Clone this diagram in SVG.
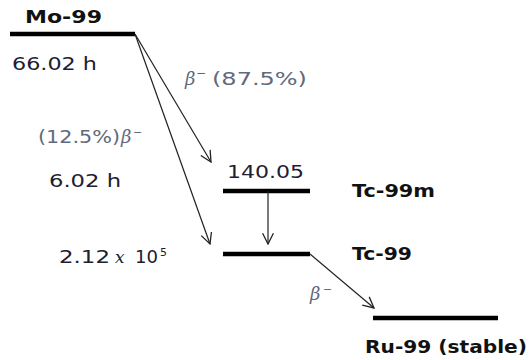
<svg xmlns="http://www.w3.org/2000/svg" width="530" height="360" viewBox="0 0 530 360">
<defs>
<marker id="v" viewBox="0 0 12 12" refX="11" refY="6" markerWidth="13" markerHeight="13" markerUnits="userSpaceOnUse" orient="auto">
<path d="M1,1 L11,6 L1,11" fill="none" stroke="#222" stroke-width="1.2"/>
</marker>
</defs>
<style>
.lvl{stroke:#000;stroke-width:4.5}
.lbl{font-family:"DejaVu Sans",Verdana,sans-serif;font-weight:bold;font-size:17px;fill:#111}
.num{font-family:"DejaVu Sans",Verdana,sans-serif;font-size:17px;fill:#1c2030}
.br{font-family:"DejaVu Sans",sans-serif;font-size:18px;fill:#616a7c}
.bi{font-family:"DejaVu Serif",serif;font-style:italic}
.con{stroke:#222;stroke-width:1.2;fill:none}
</style>
<rect width="530" height="360" fill="#fff"/>
<g id="mo99">
<line class="lvl" x1="10" y1="34" x2="135" y2="34"/>
<text class="lbl" x="25" y="23" textLength="77" lengthAdjust="spacingAndGlyphs">Mo-99</text>
<text class="num" x="12" y="70" textLength="85" lengthAdjust="spacingAndGlyphs">66.02 h</text>
</g>
<g id="tc99m">
<line class="lvl" x1="223" y1="191" x2="310" y2="191"/>
<text class="num" x="227" y="178" textLength="77" lengthAdjust="spacingAndGlyphs">140.05</text>
<text class="lbl" x="352" y="197" textLength="83" lengthAdjust="spacingAndGlyphs">Tc-99m</text>
</g>
<g id="tc99">
<line class="lvl" x1="223" y1="254" x2="310" y2="254"/>
<text class="lbl" x="352" y="260" textLength="60" lengthAdjust="spacingAndGlyphs">Tc-99</text>
</g>
<g id="ru99">
<line class="lvl" x1="373" y1="318" x2="498" y2="318"/>
<text class="lbl" x="365" y="353" textLength="162" lengthAdjust="spacingAndGlyphs">Ru-99 (stable)</text>
</g>
<g id="connectors">
<line class="con" x1="135" y1="34" x2="211" y2="162" marker-end="url(#v)"/>
<line class="con" x1="135" y1="34" x2="210" y2="244" marker-end="url(#v)"/>
<line class="con" x1="268" y1="191" x2="268" y2="244" marker-end="url(#v)"/>
<line class="con" x1="310" y1="254" x2="374" y2="308" marker-end="url(#v)"/>
</g>
<g id="labels">
<text class="br" y="85"><tspan class="bi" x="185">β</tspan><tspan x="196" dy="-8" font-size="12">−</tspan><tspan x="212" dy="8" textLength="95" lengthAdjust="spacingAndGlyphs">(87.5%)</tspan></text>
<text class="br" y="143" font-size="16"><tspan x="38" textLength="82" lengthAdjust="spacingAndGlyphs">(12.5%)</tspan><tspan class="bi" x="121">β</tspan><tspan x="133" dy="-7" font-size="11">−</tspan></text>
<text class="num" x="49" y="187" textLength="72" lengthAdjust="spacingAndGlyphs">6.02 h</text>
<text class="num" y="263" font-size="16" fill="#3a4560"><tspan x="59" textLength="51" lengthAdjust="spacingAndGlyphs">2.12</tspan><tspan class="bi" x="115" font-size="17">x</tspan><tspan x="135" textLength="23" lengthAdjust="spacingAndGlyphs">10</tspan><tspan x="160" dy="-7" font-size="11">5</tspan></text>
<text class="br" y="300" font-size="16"><tspan class="bi" x="310">β</tspan><tspan x="323" dy="-7" font-size="11">−</tspan></text>
</g>
</svg>
